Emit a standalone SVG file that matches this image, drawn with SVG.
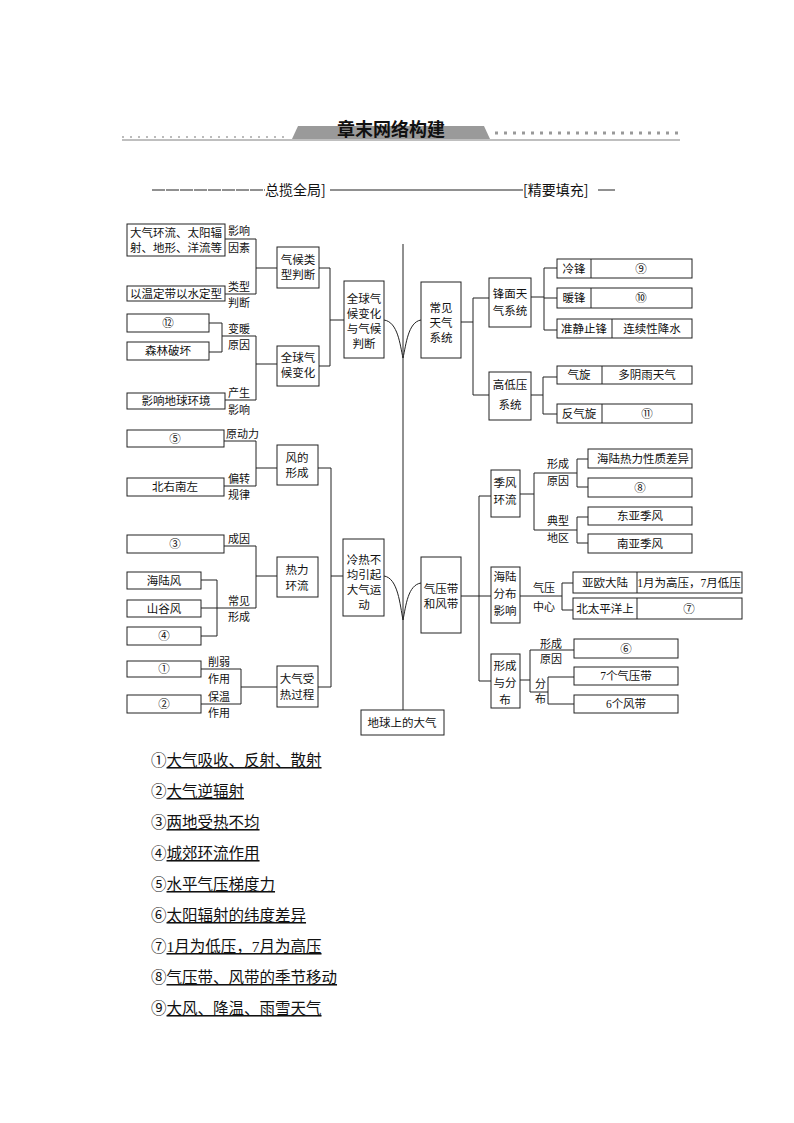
<svg xmlns="http://www.w3.org/2000/svg" width="794" height="1123" viewBox="0 0 794 1123">
<style>
text{font-family:"Liberation Serif","Noto Sans CJK SC",serif;fill:#111}
.b{fill:#fff;stroke:#222;stroke-width:1}
.t{font-size:11.5px;text-anchor:middle}
.l{font-size:11px}
.c path,.c line{stroke:#222;stroke-width:1;fill:none}
.li{font-size:15.5px}
.u{text-decoration:underline}
</style>
<rect width="794" height="1123" fill="#fff"/>
<g id="banner">
<line x1="122" y1="137" x2="290" y2="137" stroke="#bbb" stroke-width="2" stroke-dasharray="2,6"/>
<line x1="495" y1="133" x2="680" y2="133" stroke="#999" stroke-width="3" stroke-dasharray="3,6"/>
<polygon points="298,126 484,126 490,139 292,139" fill="#9a9a9a"/>
<line x1="122" y1="140" x2="680" y2="140" stroke="#aaa" stroke-width="1.5"/>
<text x="391" y="136" font-size="18" font-weight="bold" text-anchor="middle" style="font-family:'Noto Sans CJK SC',sans-serif">章末网络构建</text>
</g>
<g id="subtitle">
<line x1="152" y1="190" x2="265" y2="190" stroke="#222" stroke-dasharray="13,1"/>
<text x="265" y="195" font-size="14" style="font-family:'Noto Sans CJK SC',sans-serif">总揽全局]</text>
<line x1="330" y1="190" x2="523" y2="190" stroke="#222"/>
<text x="523" y="195" font-size="14" style="font-family:'Noto Sans CJK SC',sans-serif">[精要填充]</text>
<line x1="598" y1="190" x2="615" y2="190" stroke="#222"/>
</g>
<g class="c" id="connectors">
<line x1="403" y1="244" x2="403" y2="710"/>
<path d="M384,320 C398,322 400,345 403,358 C406,345 408,322 421,320"/>
<path d="M384,576 C398,578 400,605 403,620 C406,605 408,585 421,583"/>
<path d="M225,239 H256 M225,294 H256 M256,239 V294 M256,268 H277"/>
<path d="M209,323 H222 V352 H209 M222,336 H256 M225,400 H256 M256,336 V400 M256,364 H277"/>
<path d="M319,268 H330 V366 H319 M330,320 H344"/>
<path d="M461,322 H473 M473,298 V395 M473,298 H489 M473,395 H489"/>
<path d="M531,297 H544 M544,268 V330 M544,268 H557 M544,298 H557 M544,330 H557"/>
<path d="M531,395 H543 M543,377 V414 M543,377 H557 M543,414 H557"/>
<path d="M224,441 H256 M224,486 H256 M256,441 V486 M256,468 H277"/>
<path d="M224,546 H256 M201,580 H217 V636 H201 M201,608 H256 M256,546 V608 M256,576 H277"/>
<path d="M201,669 H241 M201,704 H241 M241,669 V704 M241,687 H277"/>
<path d="M318,468 H331 V687 H318 M331,576 H343"/>
<path d="M461,596 H479 M479,496 V681 M479,496 H491 M479,596 H491 M479,681 H491"/>
<path d="M520,494 H534 M534,473 V530 M534,473 H577 M577,459 V487 M577,459 H588 M577,487 H588 M534,530 H577 M577,517 V543 M577,517 H588 M577,543 H588"/>
<path d="M520,596 H562 M562,583 V610 M562,583 H573 M562,610 H573"/>
<path d="M520,680 H530 M530,650 V692 M530,650 H574 M530,692 H548 M548,677 V704 M548,677 H574 M548,704 H574"/>
</g>
<g id="root"><rect class="b" x="361" y="710" width="83" height="25"/><text class="t" x="402" y="727">地球上的大气</text></g>
<g id="n1"><rect class="b" x="127" y="224" width="98" height="32"/><text class="t" x="176" y="237">大气环流、太阳辐</text><text class="t" x="176" y="252">射、地形、洋流等</text></g>
<g id="n2"><rect class="b" x="127" y="286" width="98" height="15"/><text class="t" x="176" y="298">以温定带以水定型</text></g>
<g id="n3"><rect class="b" x="277" y="247" width="42" height="41"/><text class="t" x="298" y="264">气候类</text><text class="t" x="298" y="279">型判断</text></g>
<g id="n4"><rect class="b" x="127" y="314" width="82" height="18"/><text class="t" x="168" y="327">⑫</text></g>
<g id="n5"><rect class="b" x="127" y="342" width="82" height="18"/><text class="t" x="168" y="355">森林破坏</text></g>
<g id="n6"><rect class="b" x="127" y="393" width="98" height="16"/><text class="t" x="176" y="405">影响地球环境</text></g>
<g id="n7"><rect class="b" x="277" y="346" width="42" height="40"/><text class="t" x="298" y="362">全球气</text><text class="t" x="298" y="377">候变化</text></g>
<g id="n8"><rect class="b" x="344" y="281" width="40" height="77"/><text class="t" x="364" y="303">全球气</text><text class="t" x="364" y="318">候变化</text><text class="t" x="364" y="333">与气候</text><text class="t" x="364" y="348">判断</text></g>
<g id="n9"><rect class="b" x="421" y="282" width="40" height="76"/><text class="t" x="441" y="312">常见</text><text class="t" x="441" y="327">天气</text><text class="t" x="441" y="342">系统</text></g>
<g id="n10"><rect class="b" x="489" y="278" width="42" height="49"/><text class="t" x="510" y="298">锋面天</text><text class="t" x="510" y="315">气系统</text></g>
<g id="n11"><rect class="b" x="489" y="372" width="42" height="48"/><text class="t" x="510" y="389">高低压</text><text class="t" x="510" y="409">系统</text></g>
<g id="n12"><rect class="b" x="557" y="259" width="135" height="19"/><line x1="591" y1="259" x2="591" y2="278" stroke="#222"/><text class="t" x="574" y="273">冷锋</text><text class="t" x="641" y="273">⑨</text></g>
<g id="n13"><rect class="b" x="557" y="288" width="135" height="20"/><line x1="591" y1="288" x2="591" y2="308" stroke="#222"/><text class="t" x="574" y="302">暖锋</text><text class="t" x="641" y="302">⑩</text></g>
<g id="n14"><rect class="b" x="557" y="319" width="135" height="19"/><line x1="612" y1="319" x2="612" y2="338" stroke="#222"/><text class="t" x="584" y="333">准静止锋</text><text class="t" x="652" y="333">连续性降水</text></g>
<g id="n15"><rect class="b" x="557" y="366" width="135" height="18"/><line x1="602" y1="366" x2="602" y2="384" stroke="#222"/><text class="t" x="579" y="379">气旋</text><text class="t" x="647" y="379">多阴雨天气</text></g>
<g id="n16"><rect class="b" x="557" y="404" width="135" height="19"/><line x1="602" y1="404" x2="602" y2="423" stroke="#222"/><text class="t" x="579" y="418">反气旋</text><text class="t" x="647" y="418">⑪</text></g>
<g id="n17"><rect class="b" x="127" y="430" width="97" height="17"/><text class="t" x="175" y="443">⑤</text></g>
<g id="n18"><rect class="b" x="127" y="478" width="97" height="18"/><text class="t" x="175" y="491">北右南左</text></g>
<g id="n19"><rect class="b" x="277" y="445" width="41" height="40"/><text class="t" x="297" y="462">风的</text><text class="t" x="297" y="477">形成</text></g>
<g id="n20"><rect class="b" x="127" y="535" width="97" height="18"/><text class="t" x="175" y="548">③</text></g>
<g id="n21"><rect class="b" x="127" y="572" width="74" height="17"/><text class="t" x="164" y="585">海陆风</text></g>
<g id="n22"><rect class="b" x="127" y="600" width="74" height="17"/><text class="t" x="164" y="613">山谷风</text></g>
<g id="n23"><rect class="b" x="127" y="627" width="74" height="18"/><text class="t" x="164" y="640">④</text></g>
<g id="n24"><rect class="b" x="277" y="557" width="41" height="40"/><text class="t" x="297" y="574">热力</text><text class="t" x="297" y="590">环流</text></g>
<g id="n25"><rect class="b" x="127" y="661" width="74" height="16"/><text class="t" x="164" y="673">①</text></g>
<g id="n26"><rect class="b" x="127" y="695" width="74" height="18"/><text class="t" x="164" y="708">②</text></g>
<g id="n27"><rect class="b" x="277" y="666" width="41" height="41"/><text class="t" x="297" y="683">大气受</text><text class="t" x="297" y="699">热过程</text></g>
<g id="n28"><rect class="b" x="343" y="539" width="41" height="77"/><text class="t" x="364" y="564">冷热不</text><text class="t" x="364" y="579">均引起</text><text class="t" x="364" y="594">大气运</text><text class="t" x="364" y="609">动</text></g>
<g id="n29"><rect class="b" x="421" y="557" width="40" height="76"/><text class="t" x="441" y="593">气压带</text><text class="t" x="441" y="608">和风带</text></g>
<g id="n30"><rect class="b" x="491" y="470" width="29" height="47"/><text class="t" x="505" y="487">季风</text><text class="t" x="505" y="504">环流</text></g>
<g id="n31"><rect class="b" x="491" y="567" width="29" height="56"/><text class="t" x="505" y="581">海陆</text><text class="t" x="505" y="598">分布</text><text class="t" x="505" y="615">影响</text></g>
<g id="n32"><rect class="b" x="491" y="654" width="29" height="54"/><text class="t" x="505" y="670">形成</text><text class="t" x="505" y="687">与分</text><text class="t" x="505" y="704">布</text></g>
<g id="n33"><rect class="b" x="588" y="449" width="104" height="19"/><text class="t" x="643" y="463">海陆热力性质差异</text></g>
<g id="n34"><rect class="b" x="588" y="478" width="104" height="19"/><text class="t" x="640" y="492">⑧</text></g>
<g id="n35"><rect class="b" x="588" y="507" width="104" height="18"/><text class="t" x="640" y="520">东亚季风</text></g>
<g id="n36"><rect class="b" x="588" y="534" width="104" height="19"/><text class="t" x="640" y="548">南亚季风</text></g>
<g id="n37"><rect class="b" x="573" y="572" width="169" height="21"/><line x1="637" y1="572" x2="637" y2="593" stroke="#222"/><text class="t" x="605" y="587">亚欧大陆</text><text class="t" x="689" y="587">1月为高压，7月低压</text></g>
<g id="n38"><rect class="b" x="573" y="598" width="169" height="21"/><line x1="637" y1="598" x2="637" y2="619" stroke="#222"/><text class="t" x="605" y="613">北太平洋上</text><text class="t" x="689" y="613">⑦</text></g>
<g id="n39"><rect class="b" x="574" y="639" width="104" height="19"/><text class="t" x="626" y="653">⑥</text></g>
<g id="n40"><rect class="b" x="574" y="667" width="104" height="18"/><text class="t" x="626" y="680">7个气压带</text></g>
<g id="n41"><rect class="b" x="574" y="695" width="104" height="18"/><text class="t" x="626" y="708">6个风带</text></g>
<g id="labels" class="l">
<text x="228" y="235">影响</text><text x="228" y="252">因素</text>
<text x="228" y="291">类型</text><text x="228" y="307">判断</text>
<text x="228" y="333">变暖</text><text x="228" y="349">原因</text>
<text x="228" y="397">产生</text><text x="228" y="414">影响</text>
<text x="226" y="438">原动力</text>
<text x="228" y="483">偏转</text><text x="228" y="499">规律</text>
<text x="228" y="543">成因</text>
<text x="228" y="605">常见</text><text x="228" y="621">形成</text>
<text x="208" y="666">削弱</text><text x="208" y="683">作用</text>
<text x="208" y="701">保温</text><text x="208" y="717">作用</text>
<text x="547" y="468">形成</text><text x="547" y="485">原因</text>
<text x="547" y="525">典型</text><text x="547" y="542">地区</text>
<text x="533" y="592">气压</text><text x="533" y="611">中心</text>
<text x="540" y="648">形成</text><text x="540" y="663">原因</text>
<text x="535" y="688">分</text><text x="535" y="703">布</text>
</g>
<g id="answers" class="li">
<text x="151" y="766">①<tspan class="u">大气吸收、反射、散射</tspan></text>
<text x="151" y="797">②<tspan class="u">大气逆辐射</tspan></text>
<text x="151" y="828">③<tspan class="u">两地受热不均</tspan></text>
<text x="151" y="859">④<tspan class="u">城郊环流作用</tspan></text>
<text x="151" y="890">⑤<tspan class="u">水平气压梯度力</tspan></text>
<text x="151" y="921">⑥<tspan class="u">太阳辐射的纬度差异</tspan></text>
<text x="151" y="952">⑦<tspan class="u">1月为低压，7月为高压</tspan></text>
<text x="151" y="983">⑧<tspan class="u">气压带、风带的季节移动</tspan></text>
<text x="151" y="1014">⑨<tspan class="u">大风、降温、雨雪天气</tspan></text>
</g>
</svg>
